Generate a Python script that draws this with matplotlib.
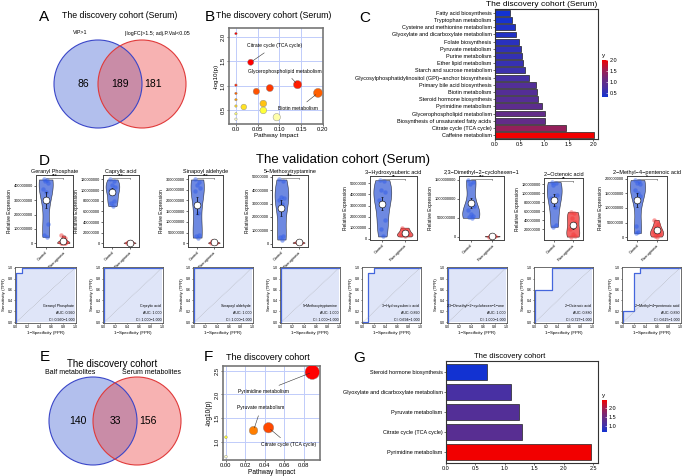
import numpy as np
import matplotlib
matplotlib.use("Agg")
import matplotlib.pyplot as plt
from matplotlib.colors import LinearSegmentedColormap, Normalize
from matplotlib.patches import Circle
from matplotlib.cm import ScalarMappable

plt.rcParams['font.family'] = ['Liberation Sans', 'DejaVu Sans']

# ---- data ----
venn_a_labels = ["VIP>1", "|logFC|>1.5; adj.P.Val<0.05"]
venn_a_counts = [86, 189, 181]
venn_e_labels = ["Balf metabolites", "Serum metabolites"]
venn_e_counts = [140, 33, 156]

# B: pathway impact vs -log10(p), serum discovery
b_impact = [0.0, 0.034, 0.142, 0.078, 0.047, 0.189, 0.0, 0.0, 0.0, 0.063, 0.018, 0.063, 0.0, 0.0, 0.0, 0.094]
b_logp = [2.07, 1.48, 1.02, 0.95, 0.88, 0.85, 1.01, 0.84, 0.71, 0.63, 0.56, 0.49, 0.58, 0.42, 0.31, 0.35]
b_labels = {1: "Citrate cycle (TCA cycle)", 2: "Glycerophospholipid metabolism", 5: "Biotin metabolism"}
b_label_pos = {1: (0.088, 1.815), 2: (0.113, 1.30), 5: (0.143, 0.52)}

# C: pathway bars (top to bottom)
c_pathways = ["Fatty acid biosynthesis", "Tryptophan metabolism", "Cysteine and methionine metabolism",
              "Glyoxylate and dicarboxylate metabolism", "Folate biosynthesis", "Pyruvate metabolism",
              "Purine metabolism", "Ether lipid metabolism", "Starch and sucrose metabolism",
              "Glycosylphosphatidylinositol (GPI)\u2212anchor biosynthesis", "Primary bile acid biosynthesis",
              "Biotin metabolism", "Steroid hormone biosynthesis", "Pyrimidine metabolism",
              "Glycerophospholipid metabolism", "Biosynthesis of unsaturated fatty acids",
              "Citrate cycle (TCA cycle)", "Caffeine metabolism"]
c_values = [0.30, 0.34, 0.41, 0.42, 0.48, 0.54, 0.56, 0.58, 0.62, 0.69, 0.83, 0.85, 0.87, 0.95,
            1.01, 1.01, 1.45, 2.02]

# D: violins
groups = ["Control", "P.aeruginosa"]
metabolites = ["Geranyl Phosphate", "Caprylic acid", "Sinapoyl aldehyde", "5\u2212Methoxytryptamine",
               "3\u2212Hydroxysuberic acid", "2,3\u2212Dimethyl\u22122\u2212cyclohexen\u22121",
               "2\u2212Octenoic acid", "2\u2212Methyl\u22124\u2212pentenoic acid"]
ctrl_vals = [
    [445e6, 440e6, 435e6, 420e6, 380e6, 360e6, 135e6, 60e6, 45e6],
    [120e6, 118e6, 110e6, 105e6, 100e6, 95e6, 80e6, 75e6, 70e6],
    [298e6, 288e6, 272e6, 258e6, 245e6, 140e6, 40e6, 33e6, 27e6],
    [48e6, 47e6, 35e6, 34e6, 33e6, 30e6, 6e6, 5e6, 3e6],
    [53e6, 52e6, 44e6, 42e6, 35e6, 32e6, 17e6, 9e6, 2e6],
    [1500e6, 1450e6, 1400e6, 800e6, 700e6, 600e6, 550e6, 520e6, 500e6],
    [125e6, 122e6, 118e6, 95e6, 90e6, 70e6, 30e6, 25e6],
    [195e6, 190e6, 185e6, 180e6, 160e6, 150e6, 140e6, 40e6, 20e6, 15e6],
]
para_vals = [
    [55e6, 35e6, 15e6, 8e6, 5e6, 3e6, 2e6, 1e6],
    [3e6, 2e6, 1.5e6, 1e6, 0.5e6],
    [12e6, 8e6, 5e6, 3e6, 2e6, 1e6],
    [1.5e6, 1e6, 0.6e6, 0.3e6],
    [10e6, 8e6, 5e6, 4e6, 3e6, 2e6],
    [30e6, 20e6, 15e6, 10e6, 5e6],
    [58e6, 55e6, 45e6, 35e6, 20e6, 8e6, 5e6, 3e6],
    [60e6, 45e6, 35e6, 25e6, 20e6, 15e6, 10e6, 5e6, 3e6],
]
sig_marks = ["***", "***", "***", "***", "**", "***", "**", "*"]
violin_ticks = [
    [0, 1e8, 2e8, 3e8, 4e8],
    [0, 2e7, 4e7, 6e7, 8e7, 1e8, 1.2e8],
    [0, 5e7, 1e8, 1.5e8, 2e8, 2.5e8, 3e8],
    [0, 1e7, 2e7, 3e7, 4e7, 5e7],
    [0, 1e7, 2e7, 3e7, 4e7, 5e7],
    [0, 5e8, 1e9, 1.5e9],
    [2e7, 4e7, 6e7, 8e7, 1e8, 1.2e8],
    [0, 5e7, 1e8, 1.5e8, 2e8],
]

# D: ROC
roc_fpr = [[0, 0, 0.1, 0.1, 1], [0, 0, 1], [0, 0, 1], [0, 0, 1],
           [0, 0.1, 0.1, 0.2, 0.2, 1], [0, 0, 1], [0, 0, 0.3, 0.3, 1], [0, 0, 0.2, 0.2, 0.3, 0.3, 1]]
roc_tpr = [[0, 0.9, 0.9, 1, 1], [0, 1, 1], [0, 1, 1], [0, 1, 1],
           [0, 0, 0.9, 0.9, 1, 1], [0, 1, 1], [0, 0.6, 0.6, 1, 1], [0, 0.2, 0.2, 0.9, 0.9, 1, 1]]
roc_names = ["Geranyl Phosphate", "Caprylic acid", "Sinapoyl aldehyde", "5\u2212Methoxytryptamine",
             "3\u2212Hydroxysuberic acid", "2,3\u2212Dimethyl\u22122\u2212cyclohexen\u22121\u2212one",
             "2\u2212Octenoic acid", "2\u2212Methyl\u22124\u2212pentenoic acid"]
roc_auc = ["0.990", "1.000", "1.000", "1.000", "0.890", "1.000", "0.880", "0.830"]
roc_ci = ["0.960\u22121.000", "1.000\u22121.000", "1.000\u22121.000", "1.000\u22121.000",
          "0.694\u22121.000", "1.000\u22121.000", "0.727\u22121.000", "0.615\u22121.000"]

# F: BALF/serum shared pathways
f_impact = [0.0886, 0.0283, 0.0437, 0.0, 0.0]
f_logp = [2.47, 1.24, 1.30, 1.10, 0.69]
f_labels = {0: "Pyrimidine metabolism", 1: "Pyruvate metabolism", 2: "Citrate cycle (TCA cycle)"}
f_label_pos = {0: (0.038, 2.06), 1: (0.036, 1.72), 2: (0.0646, 0.94)}

# G
g_pathways = ["Steroid hormone biosynthesis", "Glyoxylate and dicarboxylate metabolism",
              "Pyruvate metabolism", "Citrate cycle (TCA cycle)", "Pyrimidine metabolism"]
g_values = [0.69, 1.11, 1.24, 1.30, 2.46]

# ---- figure helpers ----
W, H = 685, 476
fig = plt.figure(figsize=(W / 100, H / 100), dpi=100)


def box(x0, y0, x1, y1):
    return fig.add_axes([x0 / W, 1 - y1 / H, (x1 - x0) / W, (y1 - y0) / H])


def ftext(x, y, s, **kw):
    fig.text(x / W, 1 - y / H, s, **kw)


bar_cmap = LinearSegmentedColormap.from_list('bp', ['#1232d2', '#4b30a0', '#6e2a7c', '#a51c4c', '#f20000'])
heat_cmap = LinearSegmentedColormap.from_list('ht', ['#ffffd0', '#ffff30', '#ffa000', '#ff4a00', '#ff0000'])


def venn(cx, cy, labels, counts, lab_y):
    r = 44.0
    w, h = 150, 96
    ax = box(cx - w / 2, cy - h / 2, cx + w / 2, cy + h / 2)
    ax.set_xlim(-w / 2 / r, w / 2 / r)
    ax.set_ylim(-h / 2 / r, h / 2 / r)
    ax.axis('off')
    ax.add_patch(Circle((-0.5, 0), 1, facecolor=(0.25, 0.375, 0.825), alpha=0.4, lw=0))
    ax.add_patch(Circle((0.5, 0), 1, facecolor=(0.925, 0.25, 0.25), alpha=0.4, lw=0))
    ax.add_patch(Circle((-0.5, 0), 1, fill=False, edgecolor='#3a46c8', lw=0.8))
    ax.add_patch(Circle((0.5, 0), 1, fill=False, edgecolor='#e03a3a', lw=0.8))
    for xx, c in zip([-0.84, 0.0, 0.75], counts):
        ax.text(xx, 0, str(c), ha='center', va='center', fontsize=7.5)
    return ax


def colorbar(norm, rect, ticks, label_xy):
    cax = box(*rect)
    cb = fig.colorbar(ScalarMappable(norm, bar_cmap), cax=cax, ticks=ticks)
    cb.outline.set_visible(False)
    cax.tick_params(labelsize=4, length=1.5, width=0.4, pad=1.5, direction='in', color='white')
    ftext(label_xy[0], label_xy[1], "y", fontsize=4.5, va='center')


# ---- A ----
ftext(44, 17, "A", fontsize=11, va='center', ha='center')
ftext(120, 16, "The discovery cohort (Serum)", fontsize=6.3, ha='center', va='center')
venn(120, 84, venn_a_labels, venn_a_counts, 33)
ftext(80, 33, venn_a_labels[0], fontsize=3.8, ha='center', va='center')
ftext(157, 33, venn_a_labels[1], fontsize=3.8, ha='center', va='center')

# ---- B ----
ftext(210, 17, "B", fontsize=11, va='center', ha='center')
ftext(274, 16, "The discovery cohort (Serum)", fontsize=6.3, ha='center', va='center')
axb = box(229, 28, 323, 124)
b_sizes = [14 + 150 * v if v > 0 else 3 for v in b_impact]
axb.scatter(b_impact, b_logp, s=b_sizes, c=b_logp, cmap=heat_cmap, norm=Normalize(0.3, 1.1),
            edgecolors='#888888', linewidths=0.3, zorder=3)
for i, txt in b_labels.items():
    axb.annotate(txt, xy=(b_impact[i], b_logp[i]), xytext=b_label_pos[i], fontsize=3.6,
                 ha='center', va='center', arrowprops=dict(arrowstyle='-', lw=0.4, color='#333'), zorder=4)
axb.set_xlim(-0.016, 0.2005)
axb.set_ylim(0.21, 2.185)
axb.set_xticks([0, 0.05, 0.1, 0.15, 0.2])
axb.set_xticklabels(["0.0", "0.05", "0.10", "0.15", "0.20"])
axb.set_yticks([0.5, 1.0, 1.5, 2.0])
axb.grid(True, color='#c0ccfa', lw=0.7)
axb.set_axisbelow(True)
axb.tick_params(labelsize=4.2, length=1.5, width=0.4, pad=1)
for t in axb.get_yticklabels():
    t.set_rotation(90)
    t.set_va('center')
for s in axb.spines.values():
    s.set_color('#777777')
    s.set_linewidth(1.2)
axb.set_xlabel("Pathway Impact", fontsize=4.5, labelpad=0.5)
axb.set_ylabel("-log10(p)", fontsize=4.5, labelpad=1)

# ---- C ----
ftext(365, 18, "C", fontsize=11, va='center', ha='center')
ftext(542, 4, "The discovery cohort (Serum)", fontsize=6, ha='center', va='center')
axc = box(495, 9, 598, 139)
c_norm = Normalize(min(c_values), max(c_values))
yc = np.arange(len(c_values))[::-1]
axc.barh(yc, c_values, height=0.82, color=bar_cmap(c_norm(c_values)), edgecolor='#222222', lw=0.5)
axc.set_yticks(yc)
axc.set_yticklabels(c_pathways)
axc.set_ylim(-0.55, len(c_values) - 0.45)
axc.set_xlim(0, 2.1)
axc.set_xticks([0, 0.5, 1.0, 1.5, 2.0])
axc.tick_params(labelsize=4, length=1.5, width=0.4, pad=1)
for s in axc.spines.values():
    s.set_color('#333333')
    s.set_linewidth(0.8)
colorbar(c_norm, (602, 60, 608, 97), [0.5, 1.0, 1.5, 2.0], (602, 56))

# ---- D ----
ftext(44, 161, "D", fontsize=11, va='center', ha='center')
ftext(343, 160, "The validation cohort (Serum)", fontsize=9.5, ha='center', va='center')

violin_boxes = [(36, 175, 73, 247), (103, 175, 139, 247), (188, 175, 223, 247), (272, 175, 308, 247),
                (370, 176, 417, 240), (459, 176, 504, 240), (544, 178, 583, 240), (627, 176, 667, 240)]
roc_boxes = [(15, 267, 76, 323), (103, 267, 163, 323), (193, 267, 253, 323), (280, 267, 340, 323),
             (362, 267, 421, 323), (447, 267, 507, 323), (534, 267, 593, 323), (622, 267, 681, 323)]
jitter = np.array([-0.12, 0.08, -0.04, 0.14, -0.15, 0.02, 0.11, -0.08, 0.05, -0.1])

for k in range(8):
    ax = box(*violin_boxes[k])
    ctrl, para = ctrl_vals[k], para_vals[k]
    parts = ax.violinplot([ctrl, para], positions=[1, 2], widths=[0.8, 0.7], showextrema=False)
    for body, fc in zip(parts['bodies'], ['#3e62d8', '#f03030']):
        body.set_facecolor(fc)
        body.set_edgecolor('black')
        body.set_linewidth(0.4)
        body.set_alpha(0.75)
    for pos, vals, pc in ((1, ctrl, '#2f5be8'), (2, para, '#f43a3a')):
        ax.scatter(pos + jitter[:len(vals)], vals, s=10, color=pc, alpha=0.5, lw=0, zorder=3)
        m = np.mean(vals)
        se = np.std(vals, ddof=1) / np.sqrt(len(vals))
        ax.errorbar(pos, m, yerr=se, color='black', lw=0.5, capsize=0.8, capthick=0.4, zorder=4)
        ax.scatter([pos], [m], s=24, color='white', edgecolors='black', linewidths=0.4, zorder=5)
    top = max(ctrl)
    lo = violin_ticks[k][0]
    span = top - min(lo, 0)
    yb = top + 0.02 * span
    ax.plot([1, 2], [yb, yb], color='#555555', lw=0.4)
    ax.plot([2, 2], [yb, yb - 0.02 * span], color='#555555', lw=0.4)
    ax.text(1.5, yb, sig_marks[k], fontsize=3.5, ha='center', va='bottom')
    ax.set_ylim(min(ctrl + para) - 0.06 * span, top + 0.07 * span)
    ax.set_xlim(0.45, 2.55)
    ax.set_yticks(violin_ticks[k])
    ax.set_yticklabels([f"{v:.0f}" for v in violin_ticks[k]])
    ax.set_xticks([1, 2])
    ax.set_xticklabels(groups, rotation=45, ha='right', rotation_mode='anchor')
    ax.tick_params(labelsize=2.8, length=1.2, width=0.4, pad=1)
    ax.set_title(metabolites[k], fontsize=4, pad=1.5)
    ax.set_ylabel("Relative Expression", fontsize=3.5, labelpad=1)
    for s in ax.spines.values():
        s.set_color('#444444')
        s.set_linewidth(0.7)

    # ROC
    ar = box(*roc_boxes[k])
    fpr, tpr = roc_fpr[k], roc_tpr[k]
    ar.fill_between(fpr, tpr, 0, color='#dfe5f8', lw=0)
    ar.plot(fpr, tpr, color='#4466dd', lw=0.9)
    ar.plot([0, 1], [0, 1], ls=':', color='#999999', lw=0.4)
    ar.text(0.98, 0.3, roc_names[k], fontsize=2.6, ha='right', va='center')
    ar.text(0.98, 0.17, "AUC: " + roc_auc[k], fontsize=2.6, ha='right', va='center')
    ar.text(0.98, 0.04, "CI: " + roc_ci[k], fontsize=2.6, ha='right', va='center')
    ar.set_xlim(-0.01, 1.01)
    ar.set_ylim(-0.01, 1.01)
    ar.set_xticks(np.arange(0, 1.01, 0.2))
    ar.set_yticks(np.arange(0, 1.01, 0.2))
    ar.xaxis.set_major_formatter(plt.FormatStrFormatter('%.1f'))
    ar.yaxis.set_major_formatter(plt.FormatStrFormatter('%.1f'))
    ar.tick_params(labelsize=2.6, length=1, width=0.4, pad=0.8)
    ar.set_xlabel("1\u2212Specificity (FPR)", fontsize=3.2, labelpad=0.8)
    ar.set_ylabel("Sensitivity (TPR)", fontsize=3.2, labelpad=0.8)
    for s in ar.spines.values():
        s.set_color('#555555')
        s.set_linewidth(0.6)

# ---- E ----
ftext(45, 357, "E", fontsize=11, va='center', ha='center')
ftext(112, 364, "The discovery cohort", fontsize=7, ha='center', va='center')
venn(115, 421, venn_e_labels, venn_e_counts, 371)
ftext(70, 372, venn_e_labels[0], fontsize=5, ha='center', va='center')
ftext(152, 372, venn_e_labels[1], fontsize=5, ha='center', va='center')

# ---- F ----
ftext(208, 357, "F", fontsize=11, va='center', ha='center')
ftext(268, 358, "The discovery cohort", fontsize=6.5, ha='center', va='center')
axf = box(223, 366, 320, 460)
f_sizes = [4 + 1180 * v for v in f_impact]
axf.scatter(f_impact, f_logp, s=f_sizes, c=f_logp, cmap=heat_cmap, norm=Normalize(1.0, 1.4),
            edgecolors='#888888', linewidths=0.3, zorder=3)
for i, txt in f_labels.items():
    axf.annotate(txt, xy=(f_impact[i], f_logp[i]), xytext=f_label_pos[i], fontsize=3.6,
                 ha='center', va='center', arrowprops=dict(arrowstyle='-', lw=0.4, color='#333'), zorder=4)
axf.set_xlim(-0.003, 0.0965)
axf.set_ylim(0.62, 2.6)
axf.set_xticks([0, 0.02, 0.04, 0.06, 0.08])
axf.set_xticklabels(["0.00", "0.02", "0.04", "0.06", "0.08"])
axf.set_yticks([1.0, 1.5, 2.0, 2.5])
axf.grid(True, color='#c0ccfa', lw=0.7)
axf.set_axisbelow(True)
axf.tick_params(labelsize=4.2, length=1.5, width=0.4, pad=1)
for t in axf.get_yticklabels():
    t.set_rotation(90)
    t.set_va('center')
for s in axf.spines.values():
    s.set_color('#777777')
    s.set_linewidth(1.2)
axf.set_xlabel("Pathway Impact", fontsize=4.8, labelpad=0.5)
axf.set_ylabel("-log10(p)", fontsize=4.8, labelpad=1)

# ---- G ----
ftext(359, 358, "G", fontsize=11, va='center', ha='center')
ftext(510, 356, "The discovery cohort", fontsize=5.5, ha='center', va='center')
axg = box(446, 361, 598, 463)
g_norm = Normalize(min(g_values), max(g_values))
yg = np.arange(len(g_values))[::-1]
axg.barh(yg, g_values, height=0.78, color=bar_cmap(g_norm(g_values)), edgecolor='#222222', lw=0.5)
axg.set_yticks(yg)
axg.set_yticklabels(g_pathways)
axg.set_ylim(-0.55, len(g_values) - 0.45)
axg.set_xlim(0, 2.585)
axg.set_xticks([0, 0.5, 1.0, 1.5, 2.0, 2.5])
axg.tick_params(labelsize=4, length=1.5, width=0.4, pad=1)
for s in axg.spines.values():
    s.set_color('#333333')
    s.set_linewidth(0.8)
colorbar(g_norm, (602, 400, 607, 432), [1.0, 1.5, 2.0], (602, 396))

fig.savefig("out.png", dpi=100, facecolor='white')
